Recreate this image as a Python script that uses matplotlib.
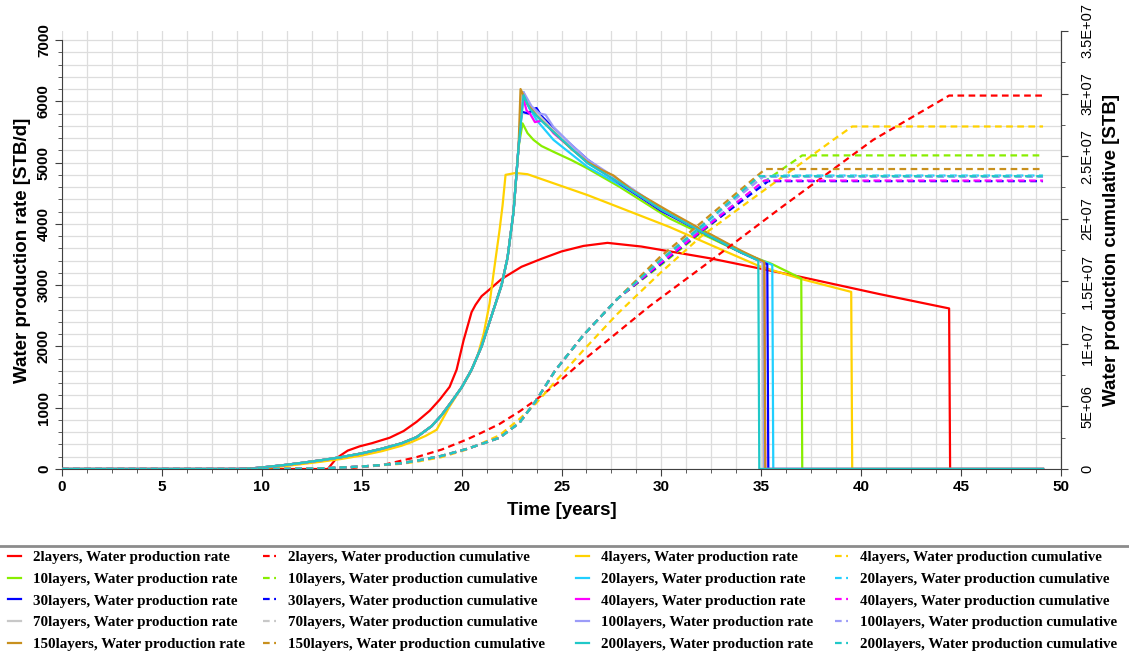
import matplotlib.pyplot as plt
from matplotlib.lines import Line2D
from matplotlib.ticker import MultipleLocator, FuncFormatter

plt.rcParams['font.family'] = ['Liberation Sans', 'DejaVu Sans']

cases = ['2layers', '4layers', '10layers', '20layers', '30layers',
         '40layers', '70layers', '100layers', '150layers', '200layers']
colors = ['#FF0000', '#FFD200', '#88EE00', '#20CFFF', '#0000FF',
          '#FF00FF', '#C8C8C8', '#9C9CF8', '#C8901E', '#20C8C8']

# ---- water production rate [STB/d] ----
rate_2_t = [0, 13.3, 13.75, 14.3, 14.9, 15.5, 16.4, 17.1, 17.75, 18.4, 18.9, 19.4, 19.75,
            20.1, 20.5, 20.7, 21.0, 21.4, 22.0, 23.0, 24.0, 25.0, 26.1, 27.3, 29.0,
            32.4, 36.9, 40.9, 44.4, 44.45, 49.1]
rate_2_v = [0, 0, 180, 300, 370, 420, 510, 620, 770, 950, 1130, 1340, 1620,
            2100, 2560, 2680, 2820, 2930, 3100, 3300, 3430, 3550, 3640, 3690, 3630,
            3440, 3140, 2855, 2620, 0, 0]

rate_4_t = [0, 8.8, 10, 11, 12, 13, 14, 15, 16, 17, 17.5, 18.2, 18.75, 19.4, 20.0, 20.4,
            20.8, 21.1, 21.4, 21.6, 21.9, 22.05, 22.2, 22.7, 23.3, 26.3, 30.4, 34.9,
            37.0, 39.5, 39.55, 49.1]
rate_4_v = [0, 0, 15, 40, 80, 120, 165, 220, 290, 380, 440, 540, 640, 1020, 1330, 1550,
            1850, 2200, 2700, 3190, 3900, 4300, 4800, 4830, 4810, 4470, 3950, 3310,
            3100, 2890, 0, 0]

# rise before the peak is shared by the 10..200 layer runs
rise_t = [0, 8.8, 9.5, 10, 11, 12, 13, 14, 15, 16, 17, 17.75, 18.5, 19.0, 19.5,
          20.0, 20.5, 21.0, 21.5, 22.0, 22.3, 22.6, 22.85]
rise_v = [0, 0, 10, 25, 60, 100, 145, 195, 255, 330, 420, 520, 700, 880, 1100,
          1330, 1620, 2000, 2500, 3000, 3450, 4200, 5250]

rate_10_t = rise_t + [23.05, 23.3, 23.6, 24.0, 24.6, 25.5, 26.3, 27.9, 30.4, 32.0, 34.0, 35.5, 37.0, 37.05, 49.1]
rate_10_v = rise_v + [5640, 5480, 5370, 5270, 5176, 5040, 4905, 4605, 4090, 3840, 3530, 3350, 3110, 0, 0]
rate_20_t = rise_t + [23.1, 23.3, 23.76, 24.6, 26.3, 28.0, 30.0, 32.0, 34.0, 35.55, 35.6, 49.1]
rate_20_v = rise_v + [6150, 5950, 5690, 5370, 4930, 4620, 4230, 3880, 3540, 3330, 0, 0]
rate_30_t = rise_t + [23.0, 23.35, 23.55, 23.75, 24.0, 24.3, 25.0, 26.3, 28.0, 30.0, 32.0, 34.0, 35.3, 35.35, 49.1]
rate_30_v = rise_v + [5830, 5800, 5870, 5890, 5760, 5660, 5430, 5050, 4640, 4210, 3870, 3530, 3340, 0, 0]
rate_40_t = rise_t + [23.05, 23.25, 23.42, 23.67, 24.09, 24.6, 25.5, 26.3, 28.0, 30.0, 32.0, 34.0, 35.15, 35.2, 49.1]
rate_40_v = rise_v + [6100, 5850, 5800, 5660, 5690, 5480, 5230, 5000, 4650, 4230, 3880, 3540, 3360, 0, 0]
rate_70_t = rise_t + [23.05, 23.5, 24.5, 25.5, 26.3, 28.0, 30.0, 32.0, 34.0, 35.05, 35.1, 49.1]
rate_70_v = rise_v + [6150, 5900, 5560, 5270, 5030, 4680, 4250, 3900, 3550, 3380, 0, 0]
rate_100_t = rise_t + [23.1, 23.5, 23.9, 24.2, 24.6, 25.5, 26.3, 28.0, 30.0, 32.0, 34.0, 35.1, 35.15, 49.1]
rate_100_v = rise_v + [6150, 5920, 5800, 5780, 5580, 5290, 5050, 4690, 4250, 3900, 3550, 3370, 0, 0]
rate_150_t = rise_t + [22.95, 23.3, 23.8, 24.6, 25.5, 26.3, 27.0, 27.6, 28.5, 30.4, 32.0, 34.0, 35.15, 35.2, 49.1]
rate_150_v = rise_v + [6200, 5950, 5750, 5500, 5220, 5010, 4880, 4790, 4560, 4200, 3910, 3560, 3380, 0, 0]
rate_200_t = rise_t + [23.1, 23.4, 24.0, 24.6, 26.3, 28.0, 30.0, 32.0, 34.0, 34.85, 34.9, 49.1]
rate_200_v = rise_v + [6100, 5880, 5680, 5500, 4990, 4650, 4230, 3870, 3530, 3400, 0, 0]

# ---- water production cumulative [STB] ----
cum_2_t = [0, 13.3, 14.5, 16, 17.75, 19, 20.25, 21, 21.9, 22.9, 23.7, 24.9, 26.1, 29.4,
           32.1, 36, 40.6, 44.4, 49.1]
cum_2_v = [0, 0, 0.08e6, 0.3e6, 0.95e6, 1.55e6, 2.35e6, 2.9e6, 3.6e6, 4.6e6, 5.5e6,
           7.0e6, 8.7e6, 13.0e6, 16.2e6, 20.9e6, 26.3e6, 29.84e6, 29.84e6]

cum_4_t = [0, 11, 13, 15, 17, 17.75, 19, 20.25, 21, 21.9, 22.9, 23.7, 24.7, 26.1, 27.8,
           29.9, 32, 34.27, 38.6, 39.55, 49.1]
cum_4_v = [0, 0, 0.05e6, 0.18e6, 0.42e6, 0.58e6, 0.95e6, 1.55e6, 2.05e6, 2.7e6, 4.0e6,
           5.2e6, 7.0e6, 9.5e6, 12.4e6, 15.6e6, 18.6e6, 21.26e6, 26.3e6, 27.37e6, 27.37e6]

cum_rise_t = [0, 11, 13, 14, 15, 16, 17, 17.75, 19.0, 20.25, 21.0, 21.9, 22.9, 23.7,
              24.7, 26.1, 27.8]
cum_rise_v = [0, 0, 0.05e6, 0.12e6, 0.2e6, 0.32e6, 0.47e6, 0.66e6, 1.05e6, 1.6e6,
              2.0e6, 2.5e6, 3.7e6, 5.4e6, 7.9e6, 10.7e6, 13.6e6]

cum_10_t = cum_rise_t + [29.9, 32, 35, 37.05, 49.1]
cum_10_v = cum_rise_v + [16.2e6, 18.9e6, 22.8e6, 25.06e6, 25.06e6]
cum_20_t = cum_rise_t + [29.9, 32, 35.6, 49.1]
cum_20_v = cum_rise_v + [16.5e6, 19.2e6, 23.45e6, 23.45e6]
cum_30_t = cum_rise_t + [29.9, 32, 35.35, 49.1]
cum_30_v = cum_rise_v + [16.3e6, 19.0e6, 23.0e6, 23.0e6]
cum_40_t = cum_rise_t + [29.9, 32, 35.15, 49.1]
cum_40_v = cum_rise_v + [16.4e6, 19.05e6, 23.05e6, 23.05e6]
cum_70_t = cum_rise_t + [29.9, 32, 35.05, 49.1]
cum_70_v = cum_rise_v + [16.7e6, 19.5e6, 23.4e6, 23.4e6]
cum_100_t = cum_rise_t + [29.9, 32, 35.1, 49.1]
cum_100_v = cum_rise_v + [16.6e6, 19.4e6, 23.35e6, 23.35e6]
cum_150_t = cum_rise_t + [29.9, 32, 35.2, 49.1]
cum_150_v = cum_rise_v + [16.9e6, 19.7e6, 23.97e6, 23.97e6]
cum_200_t = cum_rise_t + [29.9, 32, 34.9, 49.1]
cum_200_v = cum_rise_v + [16.6e6, 19.4e6, 23.4e6, 23.4e6]

rates = [(rate_2_t, rate_2_v), (rate_4_t, rate_4_v), (rate_10_t, rate_10_v),
         (rate_20_t, rate_20_v), (rate_30_t, rate_30_v), (rate_40_t, rate_40_v),
         (rate_70_t, rate_70_v), (rate_100_t, rate_100_v), (rate_150_t, rate_150_v),
         (rate_200_t, rate_200_v)]
cums = [(cum_2_t, cum_2_v), (cum_4_t, cum_4_v), (cum_10_t, cum_10_v),
        (cum_20_t, cum_20_v), (cum_30_t, cum_30_v), (cum_40_t, cum_40_v),
        (cum_70_t, cum_70_v), (cum_100_t, cum_100_v), (cum_150_t, cum_150_v),
        (cum_200_t, cum_200_v)]

W, H = 1129, 655
fig = plt.figure(figsize=(W / 100, H / 100), dpi=100)
ax = fig.add_axes([62 / W, (H - 469) / H, 999 / W, 438 / H])
ax2 = ax.twinx()

dash = (0, (3, 2))
for (t, v), c in zip(rates, colors):
    ax.plot(t, v, color=c, lw=1.6)
for (t, v), c in zip(cums, colors):
    ax2.plot(t, v, color=c, lw=1.6, ls=dash)

axis_col = '#404040'
ax.set_xlim(0, 50)
ax.set_ylim(0, 7147)
ax2.set_ylim(0, 3.5e7)
ax.xaxis.set_major_locator(MultipleLocator(5))
ax.xaxis.set_minor_locator(MultipleLocator(1.25))
ax.yaxis.set_major_locator(MultipleLocator(1000))
ax.yaxis.set_minor_locator(MultipleLocator(200))
ax2.yaxis.set_major_locator(MultipleLocator(5e6))
ax2.yaxis.set_minor_locator(MultipleLocator(2.5e6))
ax2.yaxis.set_major_formatter(FuncFormatter(lambda v, p: '0' if v == 0 else '{:.2G}'.format(v)))

ax.grid(True, which='both', color='#DDDDDD', lw=0.9)
ax.set_axisbelow(True)
for a in (ax, ax2):
    a.spines['top'].set_visible(False)
    for s in a.spines.values():
        s.set_color(axis_col)
ax.spines['left'].set_bounds(0, 7000)
ax2.spines['left'].set_visible(False)
ax2.spines['bottom'].set_visible(False)

ax.tick_params(axis='both', which='both', colors=axis_col, labelcolor='black')
ax.tick_params(axis='both', which='major', length=5)
ax.tick_params(axis='both', which='minor', length=3)
ax.tick_params(axis='x', labelsize=11, pad=3)
ax.tick_params(axis='y', labelsize=11, pad=3)
ax2.tick_params(axis='y', which='both', colors=axis_col, labelcolor='black', labelsize=10.5, pad=9)
ax2.tick_params(axis='y', which='major', length=5)
ax2.tick_params(axis='y', which='minor', length=3)
for lab in ax.get_xticklabels() + ax.get_yticklabels():
    lab.set_fontweight('bold')
for lab in ax.get_yticklabels():
    lab.set_rotation(90)
    lab.set_va('center')
for lab in ax2.get_yticklabels():
    lab.set_rotation(90)
    lab.set_va('center')

ax.set_xlabel('Time [years]', fontsize=13.5, fontweight='bold', labelpad=6)
ax.set_ylabel('Water production rate [STB/d]', fontsize=13.5, fontweight='bold', labelpad=4)
ax2.set_ylabel('Water production cumulative [STB]', fontsize=13.5, fontweight='bold', labelpad=6)

# separator above the legend
fig.add_artist(Line2D([0, 1], [1 - 546 / H, 1 - 546 / H], color='#8C8C8C', lw=2))

# legend laid out in rows: rate, cumulative, rate, cumulative
handles = []
labels = []
for i, c in enumerate(colors):
    handles.append(Line2D([], [], color=c, lw=1.6))
    labels.append(cases[i] + ', Water production rate')
    handles.append(Line2D([], [], color=c, lw=1.6, ls=dash))
    labels.append(cases[i] + ', Water production cumulative')

col_x = [8, 263, 576, 835]
for k in range(4):
    hs = handles[k::4]
    ls = labels[k::4]
    fig.legend(hs, ls, loc='upper left', bbox_to_anchor=(col_x[k] / W, 1 - 550.5 / H),
               frameon=False, ncol=1, borderpad=0, borderaxespad=0,
               handlelength=0.85, handletextpad=0.8, labelspacing=0.55,
               prop={'family': 'Liberation Serif', 'weight': 'bold', 'size': 10.8})

fig.savefig('out.png', dpi=100)
